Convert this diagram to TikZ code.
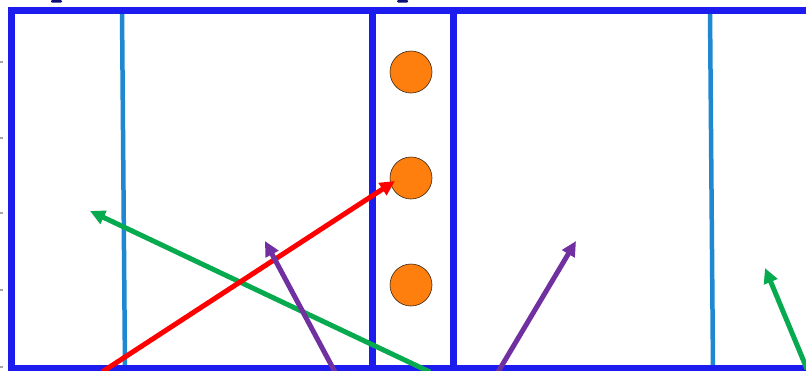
\documentclass[tikz,border=0pt]{standalone}
\usetikzlibrary{arrows.meta}
\definecolor{frameblue}{RGB}{28,28,238}
\definecolor{lightblue}{RGB}{31,136,208}
\definecolor{arrgreen}{RGB}{8,170,80}
\definecolor{arrred}{RGB}{255,0,0}
\definecolor{arrpurple}{RGB}{112,48,160}
\definecolor{dotorange}{RGB}{255,127,14}
\tikzset{
  frame/.style={draw=frameblue, line width=7pt},
  divider/.style={draw=lightblue, line width=4.5pt},
  vec/.style={line width=5pt, -{Triangle[length=15pt,width=14pt]}},
  dot/.style={circle, fill=dotorange, draw=black!70!brown, line width=0.6pt, minimum size=42pt, inner sep=0pt},
  tick/.style={fill=gray!70}
}
\begin{document}
\begin{tikzpicture}[x=1pt,y=-1pt]
\useasboundingbox (0,0) rectangle (806,370);
\clip (0,0) rectangle (806,370);
% ticks
\foreach \yy in {62,138,213,290,367} {\fill[tick] (0,\yy-1) rectangle (3,\yy+1);}
\fill[frameblue!50!black, rounded corners=1pt] (51,0) rectangle (62,2.5);
\fill[frameblue!50!black, rounded corners=1pt] (397,0) rectangle (408,2.5);
% light dividers
\coordinate (d1t) at (122,10); \coordinate (d1b) at (125,370);
\coordinate (d2t) at (710,10); \coordinate (d2b) at (713,370);
\draw[divider] (d1t) -- (d1b);
\draw[divider] (d2t) -- (d2b);
% frame
\coordinate (tl) at (11,10); \coordinate (tr) at (810,10);
\coordinate (bl) at (11,368); \coordinate (br) at (810,368);
\draw[frame] (tr) -- (tl) -- (bl) -- (br);
\coordinate (w1t) at (372,10); \coordinate (w1b) at (372,370);
\coordinate (w2t) at (453,10); \coordinate (w2b) at (453,370);
\draw[frame] (w1t) -- (w1b);
\draw[frame] (w2t) -- (w2b);
% dots
\node[dot] (o1) at (411,72) {};
\node[dot] (o2) at (411,178) {};
\node[dot] (o3) at (411,285) {};
% arrows
\coordinate (g1s) at (430,372); \coordinate (g1e) at (90,211);
\coordinate (rs) at (102,372);  \coordinate (re) at (395,181);
\coordinate (p1s) at (335,372); \coordinate (p1e) at (265,241);
\coordinate (p2s) at (498,372); \coordinate (p2e) at (576,241);
\coordinate (g2s) at (807,369); \coordinate (g2e) at (765,268);
\draw[vec, arrgreen] (g1s) -- (g1e);
\draw[vec, arrred] (rs) -- (re);
\draw[vec, arrpurple] (p1s) -- (p1e);
\draw[vec, arrpurple] (p2s) -- (p2e);
\draw[vec, arrgreen] (g2s) -- (g2e);
\end{tikzpicture}
\end{document}
